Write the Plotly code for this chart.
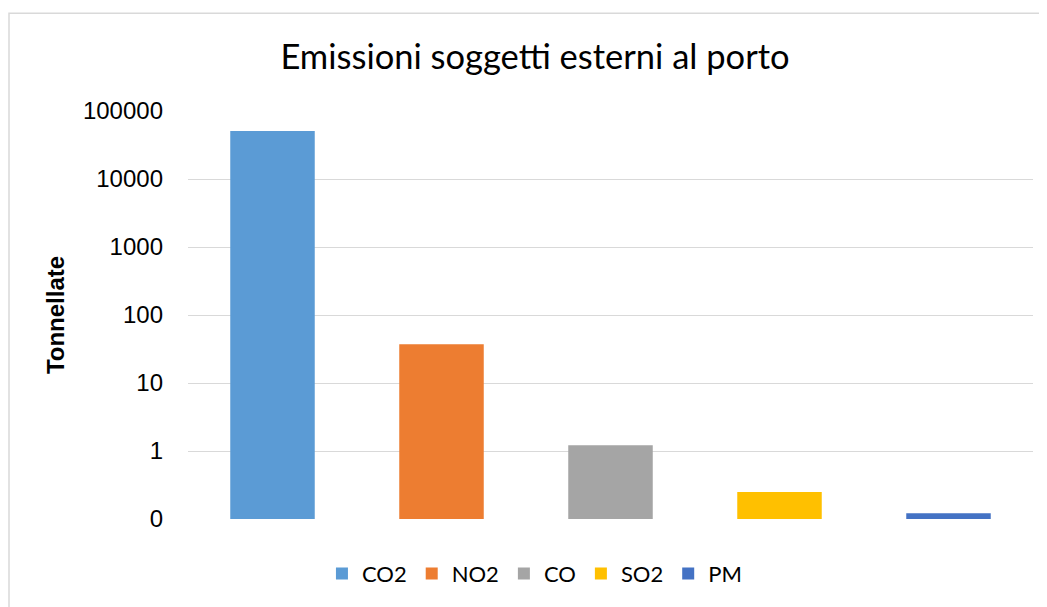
import plotly.graph_objects as go

categories = ["CO2", "NO2", "CO", "SO2", "PM"]
values = [51000, 37, 1.22, 0.25, 0.122]
colors = ["#5B9BD5", "#ED7D31", "#A5A5A5", "#FFC000", "#4472C4"]
tick_vals = [0.1, 1, 10, 100, 1000, 10000, 100000]
tick_text = ["0", "1", "10", "100", "1000", "10000", "100000"]

fig = go.Figure()
for c, v, col in zip(categories, values, colors):
    fig.add_trace(go.Bar(x=[c], y=[v], name=c, marker=dict(color=col, line=dict(width=0)),
                         width=0.5))

# page body has an 8px margin: shift everything by -8
OFF = 8
W, H = 1047 - OFF, 607 - OFF
L, R, T, B = 188 - OFF, 14, 111 - OFF, 87 - OFF
fig.update_layout(
    width=W, height=H,
    margin=dict(l=L, r=R, t=T, b=B),
    paper_bgcolor="white", plot_bgcolor="white",
    barmode="overlay",
    title=dict(text="Emissioni soggetti esterni al porto", x=(535 - OFF) / W, xanchor="center",
               y=1 - (57 - OFF) / H, yanchor="middle", yref="container",
               font=dict(family="Lato", size=34.5, color="#000000")),
    xaxis=dict(categoryorder="array", categoryarray=categories, showticklabels=False,
               showgrid=False, zeroline=False, showline=False, ticks=""),
    yaxis=dict(type="log", range=[-1, 5], tickvals=tick_vals, ticktext=tick_text,
               showgrid=True, gridcolor="#D9D9D9", gridwidth=1.3, zeroline=False, showline=False,
               ticks="", ticklabelstandoff=24,
               tickfont=dict(family="Arial, Liberation Sans", size=24, color="#000000"),
               title=dict(text="<b>Tonnellate</b>", standoff=11,
                          font=dict(family="Arial, Liberation Sans", size=24, color="#000000"))),
    legend=dict(orientation="h", x=0.41, xanchor="center", y=-0.134, yanchor="middle",
                font=dict(family="Lato", size=22, color="#000000"), itemwidth=30,
                bgcolor="rgba(0,0,0,0)"),
    showlegend=True,
)

# chart area border
pw = W - L - R
ph = H - T - B
fig.add_shape(type="rect", xref="paper", yref="paper",
              x0=(1 - L) / pw, x1=(W + 20 - L) / pw,
              y0=(H - B - (H + 20)) / ph, y1=(H - B - (11 - OFF)) / ph,
              line=dict(color="#D9D9D9", width=1.5), fillcolor="rgba(0,0,0,0)", layer="below")

fig.write_html("out.html")
